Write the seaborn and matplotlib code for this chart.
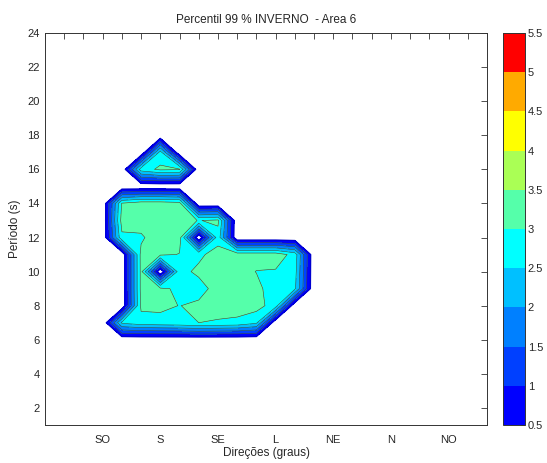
import numpy as np
import matplotlib
matplotlib.use("Agg")
import matplotlib.pyplot as plt
from matplotlib.colors import ListedColormap, BoundaryNorm
from matplotlib.ticker import MultipleLocator, FixedLocator, FormatStrFormatter
import seaborn as sns

# grade: direcoes a cada 15 graus, periodos de 1 a 24 s
directions = np.arange(0, 360, 15)
periods = np.arange(1, 25)

dir_ticks = [45, 90, 135, 180, 225, 270, 315]
dir_labels = ["SO", "S", "SE", "L", "NE", "N", "NO"]

levels = [0.5, 1, 1.5, 2, 2.5, 3, 3.5, 4, 4.5, 5, 5.5]
band_colors = ["#0000ff", "#0040ff", "#0080ff", "#00c0ff", "#00ffff",
               "#55ffaa", "#aaff55", "#ffff00", "#ffaa00", "#ff0000"]

# altura (percentil 99) por periodo, colunas de 45 a 210 graus
first_col = 3
p7 = [0, 2.6, 2.8, 2.85, 2.9, 3.0, 2.95, 2.9, 2.6, 0, 0, 0]
p8 = [0, 0, 3.1, 3.1, 2.99, 3.1, 3.2, 3.2, 3.2, 2.75, 0, 0]
p9 = [0, 0, 3.15, 3.1, 2.9, 2.8, 3.2, 3.3, 3.2, 2.6, 2.6, 0]
p10 = [0, 0, 3.15, 0, 2.85, 3.1, 3.3, 3.3, 2.98, 2.95, 2.7, 0]
p11 = [0, 0, 3.16, 3.1, 2.98, 2.9, 3.2, 3.3, 3.3, 3.3, 2.8, 0]
p12 = [0, 2.9, 2.9, 3.4, 3.2, 0, 2.8, 0, 0, 0, 0, 0]
p13 = [0, 3.2, 3.3, 3.3, 3.2, 2.98, 3.1, 0, 0, 0, 0, 0]
p14 = [0, 3.05, 3.3, 3.3, 3.2, 0, 0, 0, 0, 0, 0, 0]
p16 = [0, 0, 2.77, 3.1, 3.05, 0, 0, 0, 0, 0, 0, 0]
p17 = [0, 0, 0, 2.7, 0, 0, 0, 0, 0, 0, 0, 0]

rows = {7: p7, 8: p8, 9: p9, 10: p10, 11: p11, 12: p12,
        13: p13, 14: p14, 16: p16, 17: p17}

Z = np.zeros((len(periods), len(directions)))
for per, vals in rows.items():
    Z[per - 1, first_col:first_col + len(vals)] = vals

sns.set_theme(style="white")
plt.rcParams["font.family"] = ["Liberation Sans", "DejaVu Sans"]
plt.rcParams["font.size"] = 8

cmap = ListedColormap(band_colors)
norm = BoundaryNorm(levels, cmap.N)

fig = plt.figure(figsize=(5.47, 4.63), dpi=100)
ax = fig.add_axes([0.0823, 0.0821, 0.808, 0.8466])
cax = fig.add_axes([0.9196, 0.0821, 0.0402, 0.8466])

cf = ax.contourf(directions, periods, Z, levels=levels, cmap=cmap, norm=norm)
ax.contour(directions, periods, Z, levels=levels[1:], colors="#3c3c3c", linewidths=0.4)
# borda externa um pouco mais grossa, como no original
ax.contour(directions, periods, Z, levels=[0.5], colors="#0000d0", linewidths=1.0)

ax.set_xlim(0, 345)
ax.set_ylim(1, 24)
ax.xaxis.set_major_locator(FixedLocator(dir_ticks))
ax.set_xticklabels(dir_labels)
ax.xaxis.set_minor_locator(MultipleLocator(15))
ax.yaxis.set_major_locator(MultipleLocator(2))
ax.tick_params(which="both", direction="in", top=True, right=True,
               length=4, width=0.6, color="#333333", labelsize=8, pad=4)
ax.tick_params(axis="x", pad=7)
for s in ax.spines.values():
    s.set_color("#333333")
    s.set_linewidth(0.7)

ax.set_title("Percentil 99 % INVERNO  - Area 6", fontsize=8.5, pad=7)
ax.set_xlabel("Direções (graus)", fontsize=8.5, labelpad=2)
ax.set_ylabel("Período (s)", fontsize=8.5, labelpad=4)

cb = fig.colorbar(cf, cax=cax, ticks=levels)
cb.ax.yaxis.set_major_formatter(FormatStrFormatter("%g"))
cb.ax.tick_params(direction="in", length=3, width=0.6, labelsize=8, pad=2)
cb.outline.set_edgecolor("#333333")
cb.outline.set_linewidth(0.7)

fig.savefig("out.png", dpi=100)
